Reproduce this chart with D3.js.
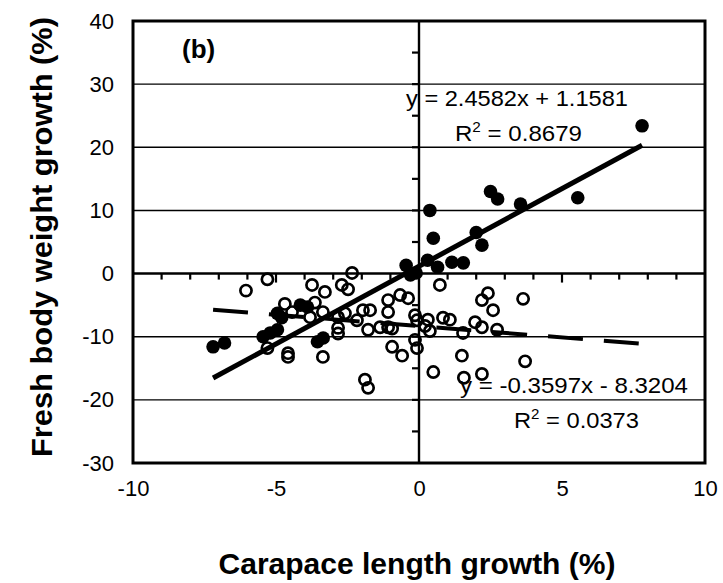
<!DOCTYPE html>
<html>
<head>
<meta charset="utf-8">
<script src="https://cdn.jsdelivr.net/npm/d3@7"></script>
<style>
  html, body { margin: 0; padding: 0; background: #fff; }
  svg { display: block; font-family: "Liberation Sans", Arial, sans-serif; }
</style>
</head>
<body>
<svg id="chart" width="723" height="583"></svg>
<script>
// Axis tick values
const xTicks = [-10, -5, 0, 5, 10];
const yTicks = [-30, -20, -10, 0, 10, 20, 30, 40];

// Growth responses (carapace length %, fresh body weight %)
const grownPoints = [
  [-7.2, -11.6], [-6.8, -11.0], [-5.45, -10.0], [-5.2, -9.4], [-4.95, -8.9],
  [-4.95, -6.3], [-4.8, -7.0], [-4.15, -5.0], [-3.9, -5.3], [-3.55, -10.8],
  [-3.35, -10.2], [-0.45, 1.3], [-0.3, -0.2], [-0.1, 0.1], [0.3, 2.1],
  [0.38, 10.0], [0.5, 5.6], [0.65, 1.0], [1.15, 1.8], [1.55, 1.7],
  [2.0, 6.5], [2.2, 4.5], [2.5, 13.0], [2.75, 11.8], [3.55, 11.0],
  [5.55, 12.0], [7.8, 23.4]
];
const lossPoints = [
  [-6.05, -2.7], [-5.3, -0.9], [-5.3, -11.8], [-4.69, -4.8], [-4.44, -6.1],
  [-4.58, -12.6], [-4.58, -13.2], [-3.74, -1.8], [-3.29, -2.9], [-3.64, -4.6],
  [-3.81, -6.9], [-3.36, -6.1], [-3.36, -13.2], [-2.7, -1.8], [-2.48, -2.5],
  [-2.34, 0.1], [-2.83, -6.9], [-2.59, -6.3], [-2.83, -8.6], [-2.83, -9.5],
  [-2.17, -7.4], [-1.96, -5.8], [-1.71, -5.8], [-1.78, -8.9], [-1.36, -8.5],
  [-1.08, -4.2], [-1.08, -6.1], [-1.08, -8.5], [-0.94, -8.7], [-0.66, -3.4],
  [-0.38, -3.9], [-0.94, -11.6], [-0.59, -13.0], [-0.14, -6.6], [-0.07, -7.4],
  [-0.14, -10.5], [-0.07, -11.8], [-1.89, -16.8], [-1.78, -18.1], [0.73, -1.8],
  [2.41, -3.1], [2.2, -4.2], [2.59, -5.8], [3.64, -4.0], [0.31, -7.3],
  [0.21, -8.3], [0.38, -9.1], [0.84, -7.0], [1.08, -7.3], [1.54, -9.4],
  [1.96, -7.7], [2.2, -8.5], [2.73, -8.9], [1.5, -13.0], [0.5, -15.6],
  [1.57, -16.5], [2.2, -15.9], [3.71, -13.9]
];

// Linear fits as reported
const grownFit = { slope: 2.4582, intercept: 1.1581, r2: 0.8679 };
const lossFit = { slope: -0.3597, intercept: -8.3204, r2: 0.0373 };
const fitRange = [-7.2, 7.8];

const svg = d3.select("#chart");
const plotLeft = 133, plotRight = 705, plotTop = 21, plotBottom = 463;

const x = d3.scaleLinear().domain([-10, 10]).range([plotLeft, plotRight]);
const y = d3.scaleLinear().domain([-30, 40]).range([plotBottom, plotTop]);

// Horizontal gridlines
svg.append("g")
  .selectAll("line")
  .data(yTicks.filter(v => v !== 0 && v !== 40 && v !== -30))
  .join("line")
  .attr("x1", plotLeft).attr("x2", plotRight)
  .attr("y1", d => y(d)).attr("y2", d => y(d))
  .attr("stroke", "#000").attr("stroke-width", 1.4);

// Axis lines crossing at zero
svg.append("line")
  .attr("x1", plotLeft).attr("x2", plotRight)
  .attr("y1", y(0)).attr("y2", y(0))
  .attr("stroke", "#000").attr("stroke-width", 2.4);
svg.append("line")
  .attr("x1", x(0)).attr("x2", x(0))
  .attr("y1", plotTop).attr("y2", plotBottom)
  .attr("stroke", "#000").attr("stroke-width", 2.4);

// Tick marks on the zero lines
svg.append("g")
  .selectAll("line")
  .data(d3.range(-9, 10, 1).filter(v => v !== 0))
  .join("line")
  .attr("x1", d => x(d)).attr("x2", d => x(d))
  .attr("y1", y(0)).attr("y2", d => y(0) + (d % 5 === 0 ? 9 : 6))
  .attr("stroke", "#000").attr("stroke-width", 2.2);
svg.append("g")
  .selectAll("line")
  .data(d3.range(-25, 40, 5).filter(v => v !== 0))
  .join("line")
  .attr("x1", x(0)).attr("x2", x(0) - 7)
  .attr("y1", d => y(d)).attr("y2", d => y(d))
  .attr("stroke", "#000").attr("stroke-width", 2.2);

// Outer frame
svg.append("rect")
  .attr("x", plotLeft).attr("y", plotTop)
  .attr("width", plotRight - plotLeft).attr("height", plotBottom - plotTop)
  .attr("fill", "none").attr("stroke", "#000").attr("stroke-width", 3);

// Tick labels (plain hyphen for negatives)
const plain = d => String(d);
const yAxis = svg.append("g")
  .attr("transform", `translate(${plotLeft},0)`)
  .call(d3.axisLeft(y).tickValues(yTicks).tickSize(0).tickPadding(19).tickFormat(plain));
const xAxis = svg.append("g")
  .attr("transform", `translate(0,${plotBottom})`)
  .call(d3.axisBottom(x).tickValues(xTicks).tickSize(0).tickPadding(17).tickFormat(plain));
[yAxis, xAxis].forEach(g => {
  g.select(".domain").remove();
  g.selectAll("text")
    .attr("font-family", "Liberation Sans, Arial, sans-serif")
    .attr("font-size", 22).attr("fill", "#000");
});

// Markers
svg.append("g")
  .selectAll("circle")
  .data(lossPoints)
  .join("circle")
  .attr("cx", d => x(d[0])).attr("cy", d => y(d[1]))
  .attr("r", 5.6)
  .attr("fill", "none").attr("stroke", "#000").attr("stroke-width", 2.7);
svg.append("g")
  .selectAll("circle")
  .data(grownPoints)
  .join("circle")
  .attr("cx", d => x(d[0])).attr("cy", d => y(d[1]))
  .attr("r", 6.8)
  .attr("fill", "#000");

// Trend lines
const fitLine = f => d3.line()(fitRange.map(v => [x(v), y(f.slope * v + f.intercept)]));
svg.append("path")
  .attr("d", fitLine(grownFit))
  .attr("stroke", "#000").attr("stroke-width", 5).attr("fill", "none");
svg.append("path")
  .attr("d", fitLine(lossFit))
  .attr("stroke", "#000").attr("stroke-width", 4).attr("fill", "none")
  .attr("stroke-dasharray", "35 21");

// Equation labels
const fmtSigned = v => (v < 0 ? "- " : "+ ") + Math.abs(v).toFixed(4);
function equation(f, px, py, len) {
  svg.append("text")
    .attr("x", px).attr("y", py)
    .attr("font-size", 22).attr("textLength", len).attr("lengthAdjust", "spacingAndGlyphs")
    .text(`y = ${f.slope.toFixed(4)}x ${fmtSigned(f.intercept)}`);
}
function rSquared(f, px, py, len) {
  const t = svg.append("text")
    .attr("x", px).attr("y", py)
    .attr("font-size", 22).attr("textLength", len).attr("lengthAdjust", "spacingAndGlyphs");
  t.append("tspan").text("R");
  t.append("tspan").attr("font-size", 14).attr("dy", -9).text("2");
  t.append("tspan").attr("dy", 9).text(` = ${f.r2.toFixed(4)}`);
}
equation(grownFit, 406, 106, 222);
rSquared(grownFit, 455, 141, 127);
equation(lossFit, 460, 393, 228);
rSquared(lossFit, 514, 428, 125);

// Panel letter
svg.append("text")
  .attr("x", 182).attr("y", 58)
  .attr("font-size", 26).attr("font-weight", "bold")
  .text("(b)");

// Axis titles
svg.append("text")
  .attr("x", (plotLeft + plotRight) / 2 - 2).attr("y", 574)
  .attr("text-anchor", "middle")
  .attr("font-size", 30).attr("font-weight", "bold")
  .attr("textLength", 397).attr("lengthAdjust", "spacingAndGlyphs")
  .text("Carapace length growth (%)");
svg.append("text")
  .attr("transform", "translate(52,237) rotate(-90)")
  .attr("text-anchor", "middle")
  .attr("font-size", 30).attr("font-weight", "bold")
  .attr("textLength", 440).attr("lengthAdjust", "spacingAndGlyphs")
  .text("Fresh body weight growth (%)");
</script>
</body>
</html>
